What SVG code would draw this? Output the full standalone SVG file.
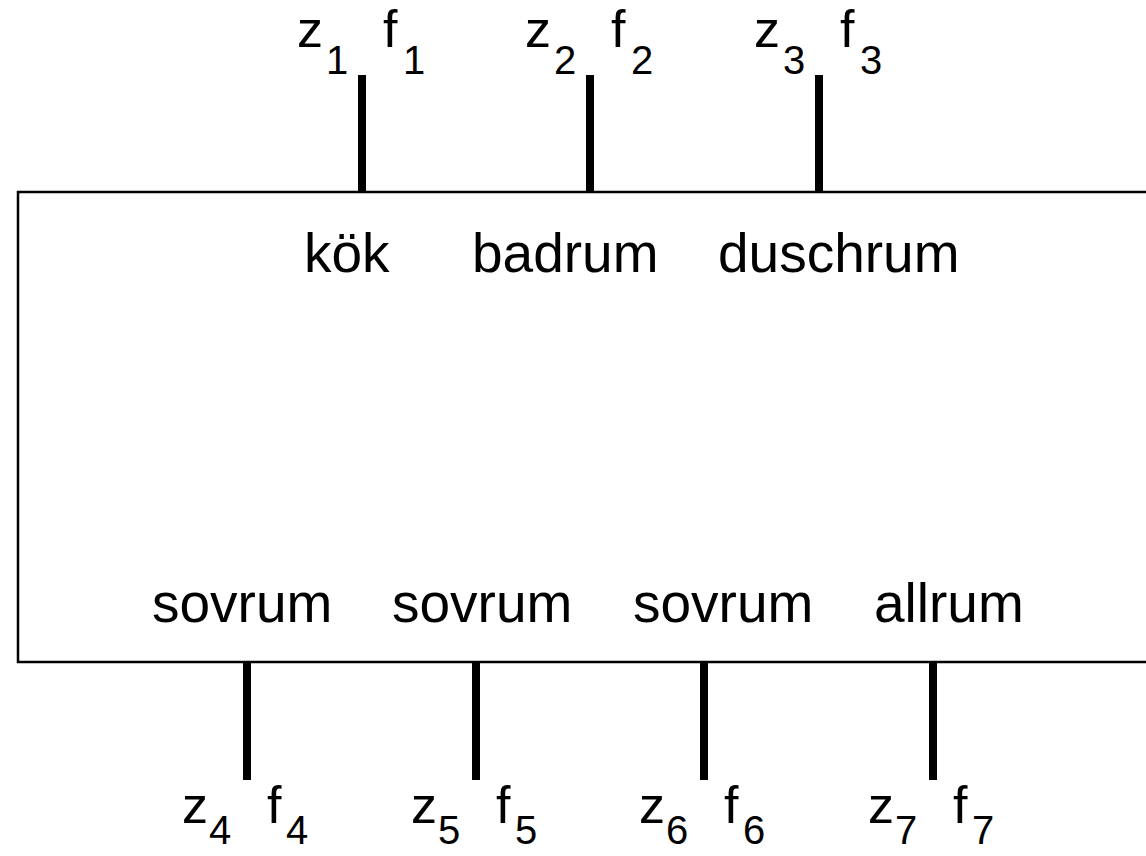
<svg xmlns="http://www.w3.org/2000/svg" width="1146" height="856" viewBox="0 0 1146 856">
<style>
text{font-family:"Liberation Sans",Arial,sans-serif;fill:#000}
.lbl{font-size:55px}
.v{font-size:52px}
.s{font-size:40px}
.c{stroke:#000;stroke-width:8}
</style>
<rect width="1146" height="856" fill="#fff"/>
<g id="box">
<rect x="18" y="192" width="1140" height="470" fill="none" stroke="#000" stroke-width="2.5"/>
<text class="lbl" x="304" y="272">kök</text>
<text class="lbl" x="472" y="272">badrum</text>
<text class="lbl" x="718" y="272">duschrum</text>
<text class="lbl" x="152" y="622">sovrum</text>
<text class="lbl" x="392" y="622">sovrum</text>
<text class="lbl" x="633" y="622">sovrum</text>
<text class="lbl" x="874" y="622">allrum</text>
</g>
<g id="connectors">
<line class="c" x1="362" y1="75" x2="362" y2="192"/>
<line class="c" x1="590" y1="75" x2="590" y2="192"/>
<line class="c" x1="819" y1="75" x2="819" y2="192"/>
<line class="c" x1="247" y1="662" x2="247" y2="780"/>
<line class="c" x1="476" y1="662" x2="476" y2="780"/>
<line class="c" x1="704" y1="662" x2="704" y2="780"/>
<line class="c" x1="933" y1="662" x2="933" y2="780"/>
</g>
<g id="port1"><text class="v" x="297" y="47">z</text><text class="s" x="326" y="74">1</text><text class="v" x="383" y="47">f</text><text class="s" x="403" y="74">1</text></g>
<g id="port2"><text class="v" x="525" y="47">z</text><text class="s" x="554" y="74">2</text><text class="v" x="611" y="47">f</text><text class="s" x="631" y="74">2</text></g>
<g id="port3"><text class="v" x="754" y="47">z</text><text class="s" x="783" y="74">3</text><text class="v" x="840" y="47">f</text><text class="s" x="860" y="74">3</text></g>
<g id="port4"><text class="v" x="182" y="823">z</text><text class="s" x="209" y="844">4</text><text class="v" x="267" y="823">f</text><text class="s" x="286" y="844">4</text></g>
<g id="port5"><text class="v" x="411" y="823">z</text><text class="s" x="438" y="844">5</text><text class="v" x="496" y="823">f</text><text class="s" x="515" y="844">5</text></g>
<g id="port6"><text class="v" x="639" y="823">z</text><text class="s" x="666" y="844">6</text><text class="v" x="724" y="823">f</text><text class="s" x="743" y="844">6</text></g>
<g id="port7"><text class="v" x="868" y="823">z</text><text class="s" x="895" y="844">7</text><text class="v" x="953" y="823">f</text><text class="s" x="972" y="844">7</text></g>
</svg>
